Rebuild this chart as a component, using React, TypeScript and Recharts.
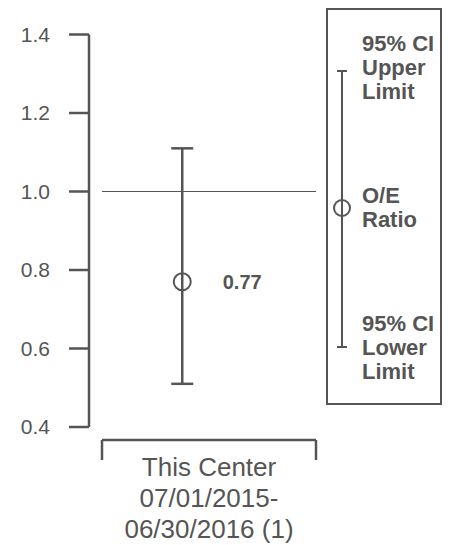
import React from "react";
import {
  ErrorBar,
  LabelList,
  Legend,
  ReferenceLine,
  Scatter,
  ScatterChart,
  XAxis,
  YAxis,
} from "recharts";

const INK = "#555555";
const FONT = "'Liberation Sans', Arial, Helvetica, sans-serif";

// O/E ratio with its 95% CI
const CENTER_X = [1.5];
const OE_RATIO = [0.77];
const CI_LOWER = [0.51];
const CI_UPPER = [1.11];

const Y_TICKS = [0.4, 0.6, 0.8, 1.0, 1.2, 1.4];
const X_TICKS = [0, 2, 4];
const CENTER_LABEL = ["This Center", "07/01/2015-", "06/30/2016 (1)"];
const LEGEND_TOP = ["95% CI", "Upper", "Limit"];
const LEGEND_MID = ["O/E", "Ratio"];
const LEGEND_LOW = ["95% CI", "Lower", "Limit"];

const data = CENTER_X.map((x, i) => ({
  x,
  y: OE_RATIO[i],
  err: [OE_RATIO[i] - CI_LOWER[i], CI_UPPER[i] - OE_RATIO[i]],
}));

function BracketTick(props: any) {
  const { x, y, payload } = props;
  if (payload.value === 2) {
    return (
      <text x={x} y={y + 49} textAnchor="middle" fill={INK} fontSize={26} fontFamily={FONT}>
        {CENTER_LABEL.map((line, i) => (
          <tspan key={line} x={x} dy={i === 0 ? 0 : 31}>
            {line}
          </tspan>
        ))}
      </text>
    );
  }
  return <line x1={x} x2={x} y1={y + 13} y2={y + 33} stroke={INK} strokeWidth={2.5} />;
}

function TextBlock({ lines, top }: { lines: string[]; top: number }) {
  return (
    <div style={{ position: "absolute", left: 34, top, lineHeight: "24px", fontSize: 22, fontWeight: 700, color: INK }}>
      {lines.map((l) => (
        <div key={l}>{l}</div>
      ))}
    </div>
  );
}

function LegendBox() {
  return (
    <div
      style={{
        position: "relative",
        width: 116,
        height: 397,
        boxSizing: "border-box",
        border: `2px solid ${INK}`,
        fontFamily: FONT,
        background: "#fff",
      }}
    >
      <svg width={112} height={393} style={{ position: "absolute", left: 0, top: 0 }}>
        <line x1={14} x2={14} y1={61} y2={337} stroke={INK} strokeWidth={2} />
        <line x1={9} x2={19} y1={61} y2={61} stroke={INK} strokeWidth={2} />
        <line x1={9} x2={19} y1={337} y2={337} stroke={INK} strokeWidth={2} />
        <circle cx={14} cy={198} r={8} fill="none" stroke={INK} strokeWidth={2} />
      </svg>
      <TextBlock lines={LEGEND_TOP} top={22} />
      <TextBlock lines={LEGEND_MID} top={174} />
      <TextBlock lines={LEGEND_LOW} top={302} />
    </div>
  );
}

export default function App() {
  return (
    <div style={{ position: "absolute", left: 0, top: 0, fontFamily: FONT }}>
      <ScatterChart width={460} height={545} margin={{ top: 34.5, right: 144, bottom: 0, left: 0 }}>
        <XAxis
          type="number"
          dataKey="x"
          domain={[0, 4]}
          ticks={X_TICKS}
          interval={0}
          height={118}
          tickLine={false}
          tickSize={0}
          tickMargin={0}
          axisLine={{ stroke: INK, strokeWidth: 2.5, transform: "translate(0 13)" }}
          tick={<BracketTick />}
        />
        <YAxis
          type="number"
          dataKey="y"
          domain={[0.4, 1.4]}
          ticks={Y_TICKS}
          interval={0}
          width={102}
          tickSize={20}
          tickMargin={32}
          tickFormatter={(v: number) => v.toFixed(1)}
          axisLine={{ stroke: INK, strokeWidth: 2.5, transform: "translate(-13 0)" }}
          tickLine={{ stroke: INK, strokeWidth: 2.5, transform: "translate(-13 0)" }}
          tick={{ fill: INK, fontSize: 21, fontFamily: FONT }}
        />
        <ReferenceLine y={1} stroke={INK} strokeWidth={1.2} />
        <Legend
          layout="vertical"
          align="center"
          verticalAlign="middle"
          wrapperStyle={{ left: 326, top: 8, width: 116, height: 397 }}
          content={() => <LegendBox />}
        />
        <Scatter
          data={data}
          isAnimationActive={false}
          shape={(p: any) => (
            <circle cx={p.cx} cy={p.cy} r={8.5} fill="none" stroke={INK} strokeWidth={2} />
          )}
        >
          <ErrorBar dataKey="err" direction="y" width={11} stroke={INK} strokeWidth={2.5} />
          <LabelList
            dataKey="y"
            position="right"
            offset={36}
            formatter={(v: number) => v.toFixed(2)}
            style={{ fill: INK, fontSize: 20, fontWeight: 700, fontFamily: FONT }}
          />
        </Scatter>
      </ScatterChart>
    </div>
  );
}
